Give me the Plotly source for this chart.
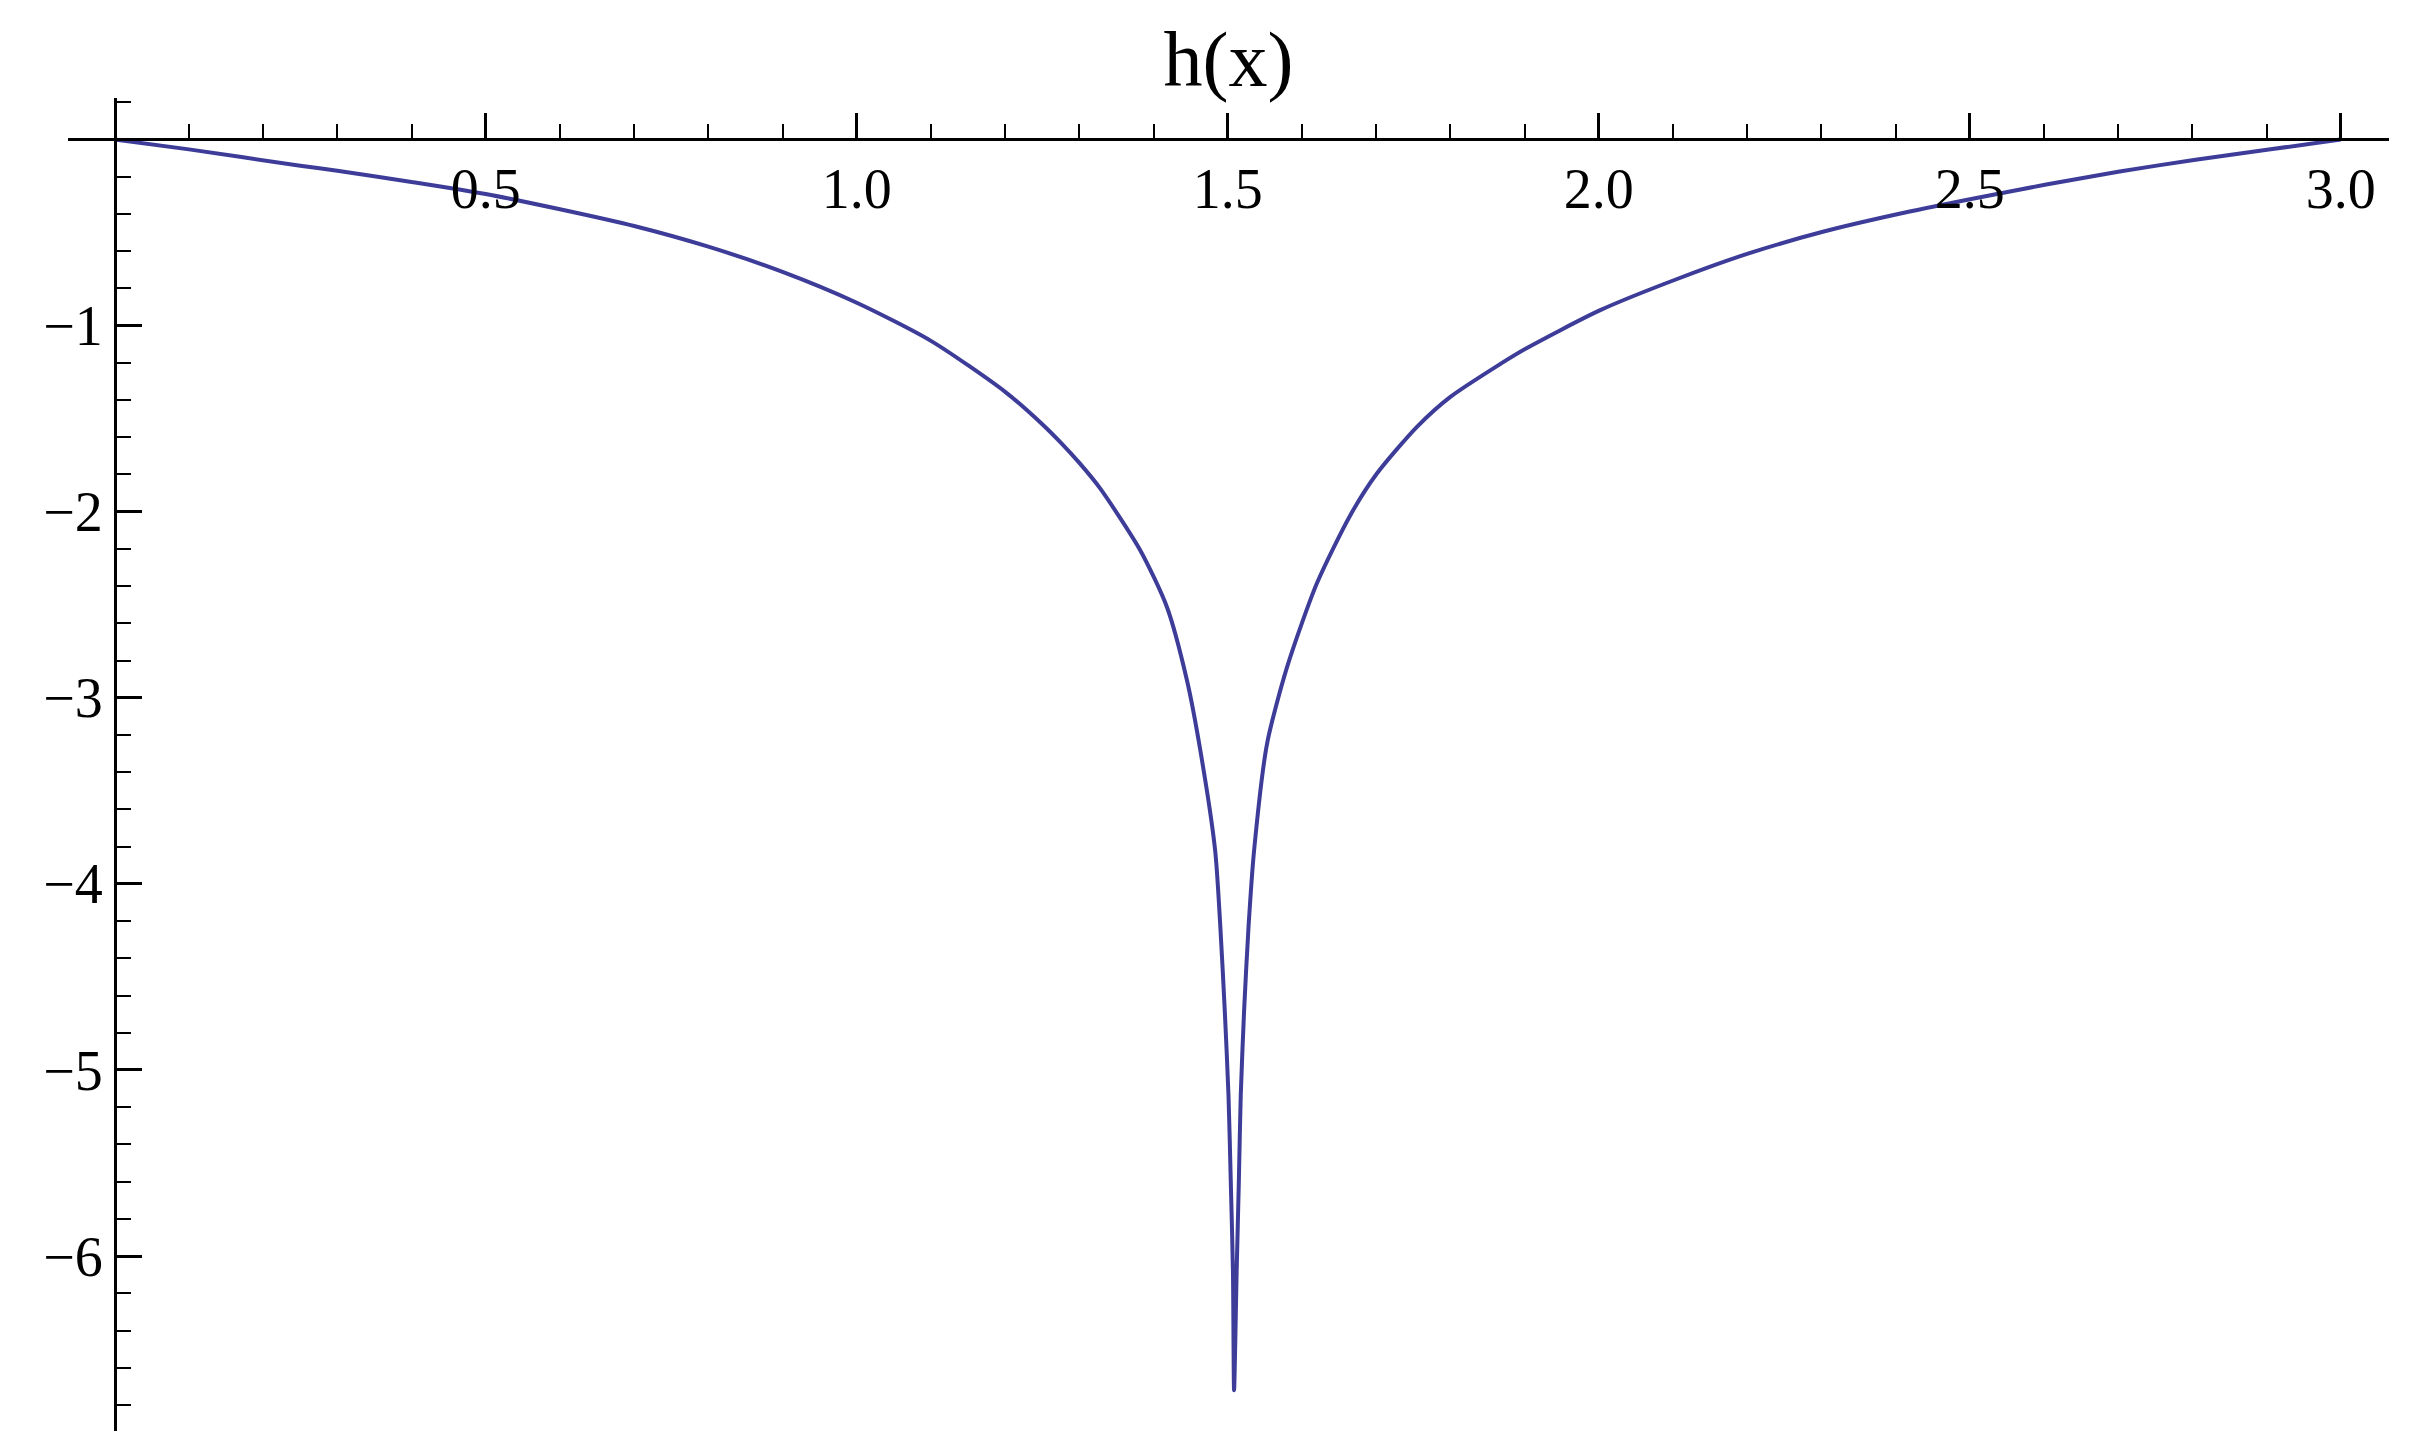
import plotly.graph_objects as go

# Curve samples
x_vals = [0.0, 0.1, 0.25, 0.3, 0.4, 0.5, 0.6, 0.7, 0.8, 0.9, 1.0, 1.1, 1.2, 1.25,
          1.274, 1.3, 1.328, 1.382, 1.418, 1.445, 1.463, 1.483, 1.490, 1.496, 1.501,
          1.504, 1.507, 1.5085,
          1.512, 1.515, 1.5175, 1.522, 1.528, 1.5355, 1.553, 1.580, 1.620, 1.665,
          1.701, 1.755, 1.800, 1.867, 1.902, 2.002, 2.102, 2.202, 2.302, 2.402,
          2.502, 2.603, 2.702, 2.802, 2.903, 3.0]
h_vals = [0.0, -0.053, -0.141, -0.168, -0.228, -0.293, -0.375, -0.465, -0.576, -0.711,
          -0.877, -1.082, -1.356, -1.530, -1.625, -1.738, -1.875, -2.207, -2.512,
          -2.906, -3.282, -3.820, -4.231, -4.684, -5.137, -5.589, -6.083, -6.721,
          -6.083, -5.589, -5.137, -4.684, -4.231, -3.820, -3.246, -2.834, -2.386,
          -2.020, -1.795, -1.544, -1.383, -1.207, -1.123, -0.917, -0.755, -0.612,
          -0.496, -0.402, -0.320, -0.242, -0.172, -0.110, -0.054, 0.0]

x_tick_vals = [0.5, 1.0, 1.5, 2.0, 2.5, 3.0]
x_tick_text = ["0.5", "1.0", "1.5", "2.0", "2.5", "3.0"]
y_tick_vals = [-1, -2, -3, -4, -5, -6]
y_tick_text = ["\u22121", "\u22122", "\u22123", "\u22124", "\u22125", "\u22126"]

title_text = "h(x)"

x_range = [-0.063, 3.065]
y_range = [-6.94, 0.223]

# the page body has an 8px margin; the figure is sized to fit the window
W, H = 2408, 1445
FONT = "Liberation Serif, Times New Roman, serif"

fig = go.Figure()
fig.add_trace(go.Scatter(
    x=x_vals, y=h_vals, mode="lines",
    line=dict(color="#3d3d99", width=4, shape="spline", smoothing=0.7),
    showlegend=False, hoverinfo="skip",
))

x_axis_pos = (0 - y_range[0]) / (y_range[1] - y_range[0])
y_axis_pos = (0 - x_range[0]) / (x_range[1] - x_range[0])

fig.update_layout(
    width=W, height=H,
    paper_bgcolor="white", plot_bgcolor="white",
    margin=dict(l=60, r=27, t=90, b=22, pad=0, autoexpand=False),
    font=dict(family=FONT, color="black", size=56),
    title=dict(text=title_text, x=0.5, xref="paper", xanchor="center",
               y=1 - 51 / H, yref="container", yanchor="middle",
               font=dict(family=FONT, size=78, color="black")),
    xaxis=dict(
        range=x_range, anchor="free", position=x_axis_pos, side="bottom",
        automargin=False,
        showgrid=False, zeroline=False, showline=True, linecolor="black", linewidth=2.5,
        tickmode="array", tickvals=x_tick_vals, ticktext=x_tick_text,
        ticks="inside", ticklen=26, tickwidth=2.5, tickcolor="black",
        tickfont=dict(family=FONT, size=56, color="black"),
        minor=dict(tickmode="linear", tick0=0, dtick=0.1, ticks="inside",
                   ticklen=15, tickwidth=2, tickcolor="black", showgrid=False),
    ),
    yaxis=dict(
        range=y_range, anchor="free", position=y_axis_pos, side="left",
        automargin=False,
        showgrid=False, zeroline=False, showline=True, linecolor="black", linewidth=2.5,
        tickmode="array", tickvals=y_tick_vals, ticktext=y_tick_text,
        ticks="inside", ticklen=26, tickwidth=2.5, tickcolor="black",
        tickfont=dict(family=FONT, size=56, color="black"),
        minor=dict(tickmode="linear", tick0=0, dtick=0.2, ticks="inside",
                   ticklen=15, tickwidth=2, tickcolor="black", showgrid=False),
    ),
)

fig.write_html("out.html")
